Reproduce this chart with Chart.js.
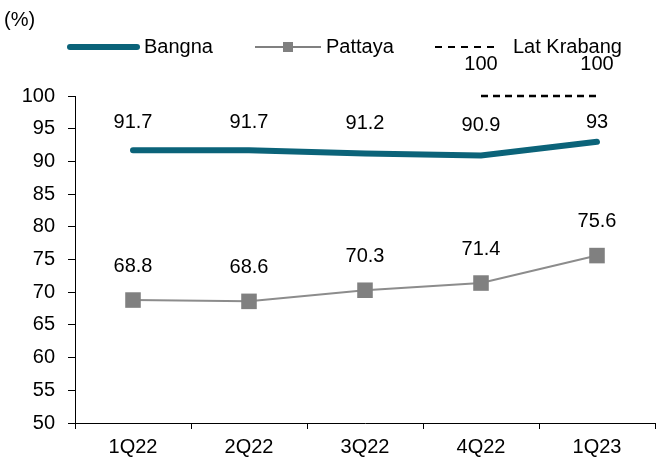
<!DOCTYPE html>
<html>
<head>
<meta charset="utf-8">
<script src="https://cdn.jsdelivr.net/npm/chart.js@4/dist/chart.umd.min.js"></script>
<style>
html,body{margin:0;padding:0;background:#fff;}
#wrap{width:659px;height:462px;position:relative;}
</style>
</head>
<body>
<div id="wrap"><canvas id="c" width="659" height="462"></canvas></div>
<script>
const categories = ["1Q22", "2Q22", "3Q22", "4Q22", "1Q23"];
const bangna = [91.7, 91.7, 91.2, 90.9, 93];
const pattaya = [68.8, 68.6, 70.3, 71.4, 75.6];
const latKrabang = [null, null, null, 100, 100];
const yTicks = [50, 55, 60, 65, 70, 75, 80, 85, 90, 95, 100];

const FONT = '"Liberation Sans", Arial, sans-serif';
const TEAL = '#0b6379';
const GREY = '#808080';

const labelPlugin = {
  id: 'labels',
  afterDatasetsDraw(chart) {
    const ctx = chart.ctx;
    const top = chart.chartArea.top;
    ctx.save();
    ctx.font = '20px ' + FONT;
    ctx.fillStyle = '#000';
    ctx.textAlign = 'center';
    ctx.textBaseline = 'middle';
    chart.data.datasets.forEach((ds, i) => {
      const meta = chart.getDatasetMeta(i);
      const off = ds.labelOffset || 30;
      meta.data.forEach((pt, j) => {
        const v = ds.data[j];
        if (v === null || v === undefined) return;
        let y = pt.y - off;
        if (ds.labelMinGap !== undefined) y = Math.max(y, top + ds.labelMinGap);
        ctx.fillText(String(v), pt.x, y);
      });
    });
    // "(%)" unit label
    ctx.textAlign = 'left';
    ctx.fillText('(%)', 4, 20);
    // legend
    const ly = 47;
    ctx.lineCap = 'round';
    ctx.strokeStyle = TEAL; ctx.lineWidth = 6;
    ctx.beginPath(); ctx.moveTo(70, ly); ctx.lineTo(137, ly); ctx.stroke();
    ctx.fillText('Bangna', 144, ly);
    ctx.lineCap = 'butt';
    ctx.strokeStyle = GREY; ctx.lineWidth = 2;
    ctx.beginPath(); ctx.moveTo(255, ly); ctx.lineTo(321, ly); ctx.stroke();
    ctx.fillStyle = GREY; ctx.fillRect(283, ly - 5, 10, 10);
    ctx.fillStyle = '#000';
    ctx.fillText('Pattaya', 326, ly);
    ctx.strokeStyle = '#000'; ctx.lineWidth = 2; ctx.setLineDash([7, 6]);
    ctx.beginPath(); ctx.moveTo(435, ly); ctx.lineTo(500, ly); ctx.stroke();
    ctx.setLineDash([]);
    ctx.fillText('Lat Krabang', 513, ly);
    ctx.restore();
  }
};

new Chart(document.getElementById('c'), {
  type: 'line',
  data: {
    labels: categories,
    datasets: [
      {
        label: 'Bangna', data: bangna, borderColor: TEAL, borderWidth: 6,
        pointRadius: 0, tension: 0, borderCapStyle: 'round', labelOffset: 30, labelMinGap: 26
      },
      {
        label: 'Pattaya', data: pattaya, borderColor: '#8c8c8c', borderWidth: 2,
        pointStyle: 'rect', pointRadius: 11, pointBackgroundColor: GREY,
        pointBorderColor: GREY, pointBorderWidth: 0, labelOffset: 34
      },
      {
        label: 'Lat Krabang', data: latKrabang, borderColor: '#000', borderWidth: 2.5,
        borderDash: [7, 5], pointRadius: 0, spanGaps: false, labelOffset: 32, clip: false
      }
    ]
  },
  options: {
    responsive: false,
    animation: false,
    layout: { autoPadding: false, padding: { top: 96, right: 4, left: 0, bottom: 0 } },
    plugins: { legend: { display: false }, tooltip: { enabled: false } },
    scales: {
      x: {
        offset: true,
        grid: { display: true, offset: true, drawOnChartArea: false, drawTicks: true, tickLength: 6, color: '#000' },
        border: { display: true, color: '#000', width: 1 },
        ticks: { color: '#000', font: { family: FONT, size: 20 }, padding: 6, maxRotation: 0 },
        afterFit(s) { s.height = 39; s.paddingLeft = 0; s.paddingRight = 0; }
      },
      y: {
        min: 50, max: 100,
        afterBuildTicks(s) { s.ticks = yTicks.map(v => ({ value: v })); },
        grid: { display: true, drawOnChartArea: false, drawTicks: true, tickLength: 7, color: '#000' },
        border: { display: true, color: '#000', width: 1 },
        ticks: { color: '#000', font: { family: FONT, size: 20 }, padding: 13 },
        afterFit(s) { s.width = 75; }
      }
    }
  },
  plugins: [labelPlugin]
});
</script>
</body>
</html>
